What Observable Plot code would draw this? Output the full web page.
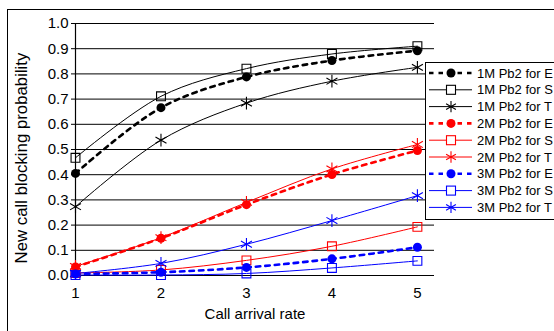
<!DOCTYPE html>
<html><head><meta charset="utf-8">
<script src="https://cdn.jsdelivr.net/npm/d3@7"></script>
<script src="https://cdn.jsdelivr.net/npm/@observablehq/plot@0.6"></script>
<style>
body{margin:0;width:554px;height:331px;overflow:hidden;position:relative;background:#fff;font-family:"Liberation Sans",Arial,sans-serif}
#frame{position:absolute;left:7px;top:9px;width:600px;height:400px;border:1.5px solid #000;box-sizing:border-box}
#chart{position:absolute;left:0;top:0}
#legend{position:absolute;left:425px;top:62px;width:200px;height:158px;border:1.5px solid #000;background:#fff;box-sizing:border-box}
#legend svg{position:absolute;left:0;top:0}
</style>
</head><body>
<div id="frame"></div>
<div id="chart"></div>
<div id="legend"></div>
<script>
const rates = [1, 2, 3, 4, 5];
const seriesNames = ["1M Pb2 for E","1M Pb2 for S","1M Pb2 for T","2M Pb2 for E","2M Pb2 for S","2M Pb2 for T","3M Pb2 for E","3M Pb2 for S","3M Pb2 for T"];
const seriesColors = ["#000000","#000000","#000000","#ff0000","#ff0000","#ff0000","#0000ff","#0000ff","#0000ff"];
const seriesKinds = ["E","S","T","E","S","T","E","S","T"];
const v1E = [0.405, 0.666, 0.788, 0.853, 0.892];
const v1S = [0.467, 0.711, 0.821, 0.879, 0.910];
const v1T = [0.273, 0.537, 0.684, 0.771, 0.826];
const v2E = [0.034, 0.148, 0.281, 0.401, 0.496];
const v2S = [0.010, 0.022, 0.060, 0.116, 0.193];
const v2T = [0.036, 0.150, 0.290, 0.423, 0.520];
const v3E = [0.006, 0.013, 0.032, 0.066, 0.112];
const v3S = [0.002, 0.002, 0.008, 0.030, 0.058];
const v3T = [0.008, 0.048, 0.124, 0.218, 0.317];
const seriesValues = [v1E, v1S, v1T, v2E, v2S, v2T, v3E, v3S, v3T];
const yTicks = [0, 0.1, 0.2, 0.3, 0.4, 0.5, 0.6, 0.7, 0.8, 0.9, 1.0];
const xTicks = [1, 2, 3, 4, 5];
const xTitle = "Call arrival rate";
const yTitle = "New call blocking probability";

const rows = [];
seriesNames.forEach((name, i) => {
  seriesValues[i].forEach((v, j) => rows.push({series: name, kind: seriesKinds[i], color: seriesColors[i], x: rates[j], y: v}));
});
const byKind = k => rows.filter(d => d.kind === k);
const FONT = '"Liberation Sans", Arial, sans-serif';

const chart = Plot.plot({
  width: 554, height: 331,
  marginLeft: 75, marginRight: 120, marginTop: 23, marginBottom: 56,
  style: {fontFamily: FONT, fontSize: "15px", background: "transparent", color: "#000"},
  x: {domain: [1, 5.2]},
  y: {domain: [0, 1]},
  marks: [
    Plot.ruleY(yTicks, {stroke: "#000", strokeWidth: 1}),
    Plot.ruleX([1], {y1: 0, y2: 1, stroke: "#000", strokeWidth: 1.2}),
    Plot.axisX({ticks: xTicks, tickFormat: d => String(d), tickSize: 0, tickPadding: 12, fontSize: 15,
      label: xTitle, labelAnchor: "center", labelOffset: 43, labelArrow: "none"}),
    Plot.axisY({ticks: yTicks, tickFormat: d3.format(".1f"), tickSize: 4, tickPadding: 3, fontSize: 15, label: null}),
    Plot.text([yTitle], {frameAnchor: "left", text: d => d, textAnchor: "middle", lineAnchor: "middle", rotate: -90, dx: -53.5, dy: 8.5, fontSize: 16.8, fill: "#000"}),
    Plot.line(byKind("S"), {x: "x", y: "y", z: "series", stroke: "color", strokeWidth: 1, curve: "catmull-rom"}),
    Plot.line(byKind("T"), {x: "x", y: "y", z: "series", stroke: "color", strokeWidth: 1, curve: "catmull-rom"}),
    Plot.line(byKind("E"), {x: "x", y: "y", z: "series", stroke: "color", strokeWidth: 2.6, strokeDasharray: "4.5,5", curve: "catmull-rom"}),
    Plot.dot(byKind("S"), {x: "x", y: "y", symbol: "square", r: 5, stroke: "color", fill: "white", fillOpacity: 0, strokeWidth: 1.1}),
    Plot.dot(byKind("T"), {x: "x", y: "y", symbol: "asterisk", r: 6, stroke: "color", strokeWidth: 1.1}),
    Plot.dot(byKind("E"), {x: "x", y: "y", symbol: "circle", r: 4.5, fill: "color", stroke: "none"})
  ]
});
document.getElementById("chart").appendChild(chart);

// Legend
const lsvg = d3.select("#legend").append("svg").attr("width", 200).attr("height", 160);
seriesNames.forEach((name, i) => {
  const cy = 10 + i * 16.8;
  const g = lsvg.append("g");
  const c = seriesColors[i];
  const kind = seriesKinds[i];
  g.append("line").attr("x1", 3).attr("x2", 46).attr("y1", cy).attr("y2", cy)
    .attr("stroke", c).attr("stroke-width", kind === "E" ? 2.6 : 1)
    .attr("stroke-dasharray", kind === "E" ? "4.5,5" : null);
  if (kind === "E") {
    g.append("circle").attr("cx", 25).attr("cy", cy).attr("r", 4.5).attr("fill", c);
  } else if (kind === "S") {
    g.append("rect").attr("x", 20.5).attr("y", cy - 4.5).attr("width", 9).attr("height", 9)
      .attr("fill", "white").attr("stroke", c).attr("stroke-width", 1.1);
  } else {
    g.append("path").attr("transform", `translate(25,${cy})`)
      .attr("d", d3.symbol(d3.symbolAsterisk, 90)()).attr("stroke", c).attr("stroke-width", 1.1).attr("fill", "none");
  }
  g.append("text").attr("x", 51).attr("y", cy).attr("dy", "0.36em")
    .attr("font-size", 13).attr("font-family", FONT).text(name);
});
</script>
</body></html>
